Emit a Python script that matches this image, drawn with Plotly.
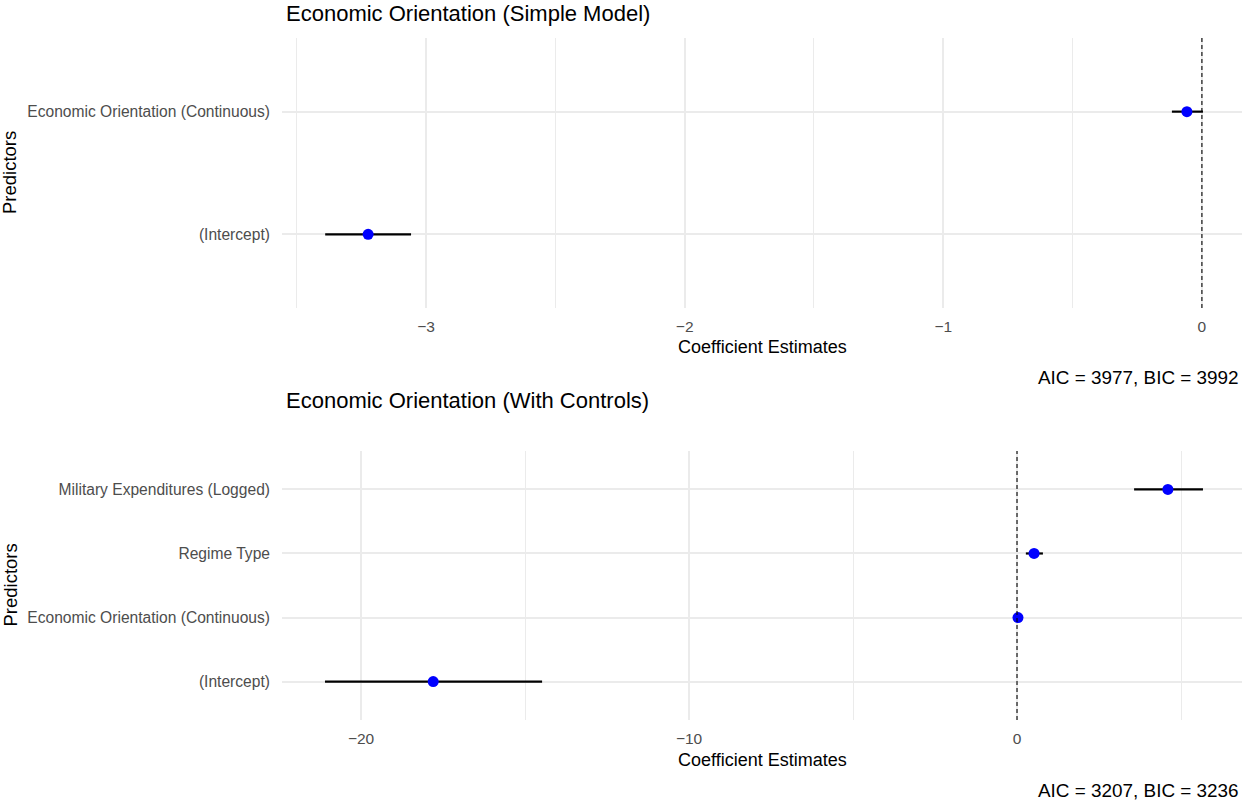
import plotly.graph_objects as go

# ---- data ----
p1_terms = ["(Intercept)", "Economic Orientation (Continuous)"]
p1_est = [-3.224, -0.058]
p1_low = [-3.390, -0.116]
p1_high = [-3.058, 0.004]

p2_terms = ["(Intercept)", "Economic Orientation (Continuous)", "Regime Type", "Military Expenditures (Logged)"]
p2_est = [-17.80, 0.03, 0.52, 4.60]
p2_low = [-21.10, -0.02, 0.27, 3.57]
p2_high = [-14.48, 0.08, 0.79, 5.67]

titles = ["Economic Orientation (Simple Model)", "Economic Orientation (With Controls)"]
captions = ["AIC = 3977, BIC = 3992", "AIC = 3207, BIC = 3236"]

W, H = 1247, 803
FONT = "Liberation Sans, Arial, sans-serif"

def px_x(p):
    return p / W

def px_y(p):
    return 1 - p / H

fig = go.Figure()

panels = [
    dict(terms=p1_terms, est=p1_est, lo=p1_low, hi=p1_high, xa="x", ya="y",
         top=38, bot=308, xr=[-3.557, 0.155], dtick=1, title_y=14, xt_y=347, cap_y=377),
    dict(terms=p2_terms, est=p2_est, lo=p2_low, hi=p2_high, xa="x2", ya="y2",
         top=451, bot=720, xr=[-22.41, 6.86], dtick=10, title_y=400, xt_y=760, cap_y=790),
]

L, R = 282, 1242
shapes = []
annotations = []
for i, p in enumerate(panels):
    sfx = "" if i == 0 else "2"
    fig.add_trace(go.Scatter(
        x=p["est"], y=p["terms"], mode="markers",
        marker=dict(color="#0000FF", size=11),
        error_x=dict(type="data", symmetric=False,
                     array=[h - e for h, e in zip(p["hi"], p["est"])],
                     arrayminus=[e - l for e, l in zip(p["est"], p["lo"])],
                     color="black", thickness=2.2, width=0),
        xaxis=p["xa"], yaxis=p["ya"], showlegend=False, hoverinfo="skip",
    ))
    n = len(p["terms"])
    fig.layout["xaxis" + sfx] = dict(
        domain=[px_x(L), px_x(R)], anchor=p["ya"], range=p["xr"],
        dtick=p["dtick"], tick0=0, showgrid=True, gridcolor="#EBEBEB", gridwidth=2,
        minor=dict(dtick=p["dtick"] / 2, tick0=0, showgrid=True, gridcolor="#EBEBEB", gridwidth=1),
        zeroline=False, showline=False, ticks="",
        tickfont=dict(family=FONT, size=15.5, color="#4D4D4D"),
        tickformat="d", ticklabelstandoff=7,
    )
    fig.layout["yaxis" + sfx] = dict(
        domain=[px_y(p["bot"]), px_y(p["top"])], anchor=p["xa"],
        type="category", categoryorder="array", categoryarray=p["terms"],
        range=[-0.6, n - 1 + 0.6],
        showgrid=True, gridcolor="#EBEBEB", gridwidth=2,
        zeroline=False, showline=False, ticks="",
        tickfont=dict(family=FONT, size=15.6, color="#4D4D4D"),
        ticklabelstandoff=11,
    )
    shapes.append(dict(type="line", xref=p["xa"], yref=p["ya"] + " domain",
                       x0=0, x1=0, y0=0, y1=1,
                       line=dict(color="black", width=1.1, dash="4px,3px"), layer="above"))
    annotations += [
        dict(text=titles[i], x=px_x(L + 2), y=px_y(p["title_y"]), xref="paper", yref="paper",
             xanchor="left", yanchor="middle", showarrow=False,
             font=dict(family=FONT, size=22, color="black")),
        dict(text="Coefficient Estimates", x=px_x((L + R) / 2), y=px_y(p["xt_y"]),
             xref="paper", yref="paper", xanchor="center", yanchor="middle", showarrow=False,
             font=dict(family=FONT, size=18, color="black")),
        dict(text=captions[i], x=px_x(1241), y=px_y(p["cap_y"]), xref="paper", yref="paper",
             xanchor="right", yanchor="middle", showarrow=False,
             font=dict(family=FONT, size=18.9, color="black")),
        dict(text="Predictors", x=px_x(10), y=px_y((p["top"] + p["bot"]) / 2),
             xref="paper", yref="paper", xanchor="center", yanchor="middle", showarrow=False,
             textangle=-90, font=dict(family=FONT, size=18.5, color="black")),
    ]

fig.update_layout(
    width=W, height=H, margin=dict(l=0, r=0, t=0, b=0),
    paper_bgcolor="white", plot_bgcolor="white",
    shapes=shapes, annotations=annotations,
    font=dict(family=FONT),
)

fig.write_html("out.html", config={"displayModeBar": False},
               post_script="document.body.style.margin='0';document.body.style.padding='0';")
